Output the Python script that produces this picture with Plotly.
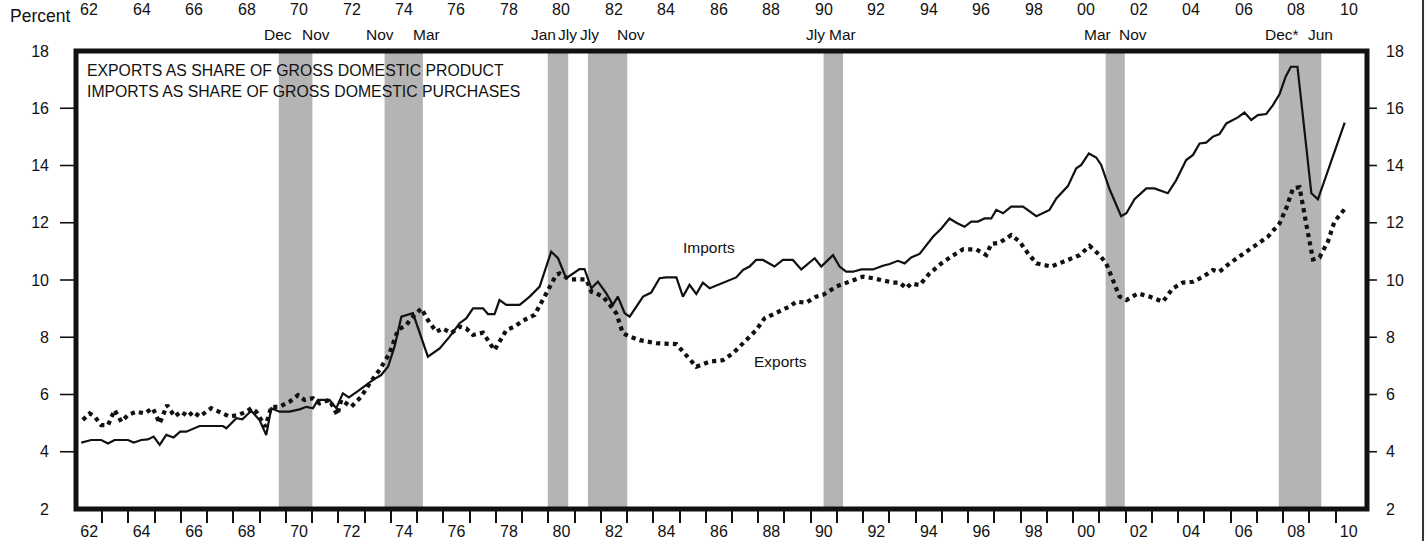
import plotly.graph_objects as go

# ---------------- data ----------------
imports_year = [1962.20, 1962.58, 1962.96, 1963.22, 1963.47, 1963.98, 1964.20, 1964.49, 1964.74, 1964.96,
                1965.19, 1965.44, 1965.72, 1965.97, 1966.20, 1966.71, 1967.60, 1967.73, 1968.11, 1968.34,
                1968.68, 1969.00, 1969.25, 1969.44, 1969.76, 1970.14, 1970.52, 1970.78, 1971.03, 1971.22,
                1971.66, 1971.92, 1972.17, 1972.40, 1972.81, 1973.32, 1973.63, 1973.89, 1974.14, 1974.40,
                1974.84, 1975.41, 1975.86, 1976.24, 1976.62, 1976.87, 1977.13, 1977.51, 1977.70, 1977.95,
                1978.14, 1978.40, 1978.91, 1979.29, 1979.67, 1980.11, 1980.37, 1980.68, 1981.19, 1981.38,
                1981.64, 1981.89, 1982.21, 1982.46, 1982.65, 1982.91, 1983.10, 1983.35, 1983.61, 1983.92,
                1984.24, 1984.49, 1984.88, 1985.13, 1985.38, 1985.64, 1985.89, 1986.15, 1987.16, 1987.42,
                1987.67, 1987.92, 1988.18, 1988.62, 1988.94, 1989.32, 1989.64, 1990.15, 1990.40, 1990.85,
                1991.10, 1991.35, 1991.61, 1991.93, 1992.37, 1992.75, 1993.01, 1993.32, 1993.58, 1993.83,
                1994.15, 1994.66, 1994.98, 1995.29, 1995.55, 1995.86, 1996.12, 1996.37, 1996.63, 1996.88,
                1997.07, 1997.33, 1997.64, 1998.09, 1998.60, 1999.10, 1999.36, 1999.80, 2000.12, 2000.31,
                2000.60, 2000.88, 2001.07, 2001.39, 2001.83, 2002.03, 2002.34, 2002.79, 2003.10, 2003.61,
                2003.93, 2004.31, 2004.57, 2004.82, 2005.07, 2005.33, 2005.58, 2005.84, 2006.28, 2006.53,
                2006.79, 2007.04, 2007.36, 2007.61, 2007.87, 2008.10, 2008.30, 2008.55, 2009.08, 2009.33,
                2010.35]
imports_pct = [4.32, 4.41, 4.41, 4.29, 4.41, 4.41, 4.32, 4.41, 4.43, 4.53,
               4.24, 4.59, 4.50, 4.70, 4.70, 4.90, 4.90, 4.82, 5.17, 5.13,
               5.43, 5.10, 4.58, 5.52, 5.40, 5.40, 5.48, 5.57, 5.52, 5.81,
               5.81, 5.52, 6.04, 5.90, 6.16, 6.51, 6.68, 6.97, 7.67, 8.72,
               8.84, 7.32, 7.61, 8.02, 8.49, 8.66, 9.01, 9.01, 8.81, 8.81,
               9.30, 9.13, 9.13, 9.42, 9.77, 10.99, 10.76, 10.06, 10.38, 10.38,
               9.71, 9.94, 9.53, 9.13, 9.42, 8.84, 8.72, 9.07, 9.42, 9.56,
               10.06, 10.09, 10.09, 9.42, 9.83, 9.51, 9.91, 9.71, 10.09, 10.35,
               10.47, 10.70, 10.70, 10.47, 10.70, 10.70, 10.37, 10.76, 10.47, 10.87,
               10.47, 10.29, 10.29, 10.37, 10.37, 10.50, 10.56, 10.67, 10.58, 10.79,
               10.91, 11.51, 11.80, 12.15, 12.00, 11.86, 12.04, 12.04, 12.15, 12.15,
               12.45, 12.33, 12.56, 12.56, 12.23, 12.45, 12.85, 13.28, 13.90, 14.02,
               14.42, 14.28, 14.02, 13.17, 12.23, 12.33, 12.82, 13.20, 13.20, 13.03,
               13.49, 14.19, 14.37, 14.77, 14.80, 15.01, 15.10, 15.47, 15.68, 15.85,
               15.59, 15.76, 15.80, 16.10, 16.50, 17.10, 17.45, 17.45, 13.03, 12.82,
               15.50]

exports_year = [1962.26, 1962.52, 1962.71, 1962.96, 1963.22, 1963.47, 1963.73, 1963.98, 1964.30, 1964.61,
                1964.93, 1965.19, 1965.47, 1965.76, 1966.01, 1966.27, 1966.46, 1966.71, 1967.15, 1967.47,
                1967.85, 1968.17, 1968.49, 1968.68, 1968.87, 1969.06, 1969.22, 1969.44, 1969.76, 1970.14,
                1970.46, 1970.71, 1971.03, 1971.28, 1971.66, 1971.96, 1972.11, 1972.49, 1972.87, 1973.19,
                1973.57, 1973.95, 1974.27, 1974.59, 1974.78, 1975.16, 1975.41, 1975.73, 1975.98, 1976.30,
                1976.62, 1976.87, 1977.13, 1977.51, 1977.95, 1978.40, 1978.71, 1979.03, 1979.48, 1979.92,
                1980.30, 1980.43, 1980.81, 1981.45, 1981.64, 1981.83, 1982.08, 1982.40, 1982.59, 1982.84,
                1983.10, 1983.48, 1984.11, 1984.88, 1985.26, 1985.64, 1986.15, 1986.65, 1987.04, 1987.54,
                1987.92, 1988.24, 1988.69, 1989.19, 1989.45, 1989.83, 1990.21, 1990.47, 1990.97, 1991.48,
                1991.99, 1992.37, 1992.63, 1993.13, 1993.39, 1993.64, 1993.83, 1994.15, 1994.53, 1994.98,
                1995.36, 1995.80, 1996.31, 1996.69, 1996.88, 1997.20, 1997.64, 1997.96, 1998.28, 1998.60,
                1999.17, 1999.74, 2000.25, 2000.63, 2001.01, 2001.26, 2001.52, 2001.77, 2002.03, 2002.47,
                2002.91, 2003.42, 2003.80, 2004.18, 2004.57, 2004.95, 2005.33, 2005.58, 2005.96, 2006.47,
                2006.98, 2007.42, 2007.87, 2008.12, 2008.38, 2008.63, 2008.88, 2009.14, 2009.39, 2009.71,
                2009.96, 2010.35]
exports_pct = [5.11, 5.34, 5.23, 4.93, 4.93, 5.46, 5.05, 5.28, 5.40, 5.34,
               5.52, 4.99, 5.63, 5.23, 5.40, 5.23, 5.40, 5.23, 5.52, 5.40,
               5.23, 5.28, 5.40, 5.52, 5.40, 5.11, 4.88, 5.57, 5.57, 5.75,
               5.98, 5.81, 5.87, 5.69, 5.81, 5.28, 5.81, 5.57, 5.92, 6.39,
               6.86, 7.44, 8.25, 8.43, 8.66, 9.01, 8.60, 8.19, 8.31, 8.14,
               8.37, 8.31, 8.08, 8.16, 7.55, 8.25, 8.37, 8.58, 8.78, 9.53,
               10.18, 10.23, 10.02, 10.02, 9.59, 9.53, 9.42, 9.07, 8.84, 8.14,
               8.02, 7.90, 7.79, 7.76, 7.38, 6.97, 7.15, 7.20, 7.44, 7.90,
               8.25, 8.66, 8.84, 9.07, 9.24, 9.21, 9.42, 9.48, 9.77, 9.94,
               10.12, 10.06, 10.00, 9.91, 9.91, 9.71, 9.88, 9.82, 10.23, 10.58,
               10.82, 11.07, 11.07, 10.87, 11.26, 11.30, 11.57, 11.34, 10.93, 10.58,
               10.47, 10.70, 10.87, 11.19, 10.87, 10.58, 9.94, 9.42, 9.30, 9.53,
               9.42, 9.24, 9.71, 9.91, 9.94, 10.11, 10.35, 10.29, 10.58, 10.91,
               11.22, 11.51, 11.98, 12.50, 13.20, 13.24, 11.98, 10.72, 10.79, 11.34,
               12.04, 12.48]

# recessions (start, end) in fractional years, and their month labels
recession_start = [1969.73, 1973.76, 1979.98, 1981.51, 1990.49, 2001.24, 2007.84]
recession_end = [1971.01, 1975.22, 1980.76, 1983.01, 1991.23, 2001.97, 2009.46]
recession_labels = ["Dec", "Nov", "Nov", "Mar", "Jan", "Jly", "Jly", "Nov",
                    "Jly", "Mar", "Mar", "Nov", "Dec*", "Jun"]
recession_label_year = [1969.70, 1971.16, 1973.57, 1975.35, 1979.82, 1980.73, 1981.56, 1983.14,
                        1990.19, 1991.22, 2000.93, 2002.27, 2007.95, 2009.43]

# axis labels
year_label_pos = [1962.5 + 2 * i for i in range(25)]
year_label_text = ["62", "64", "66", "68", "70", "72", "74", "76", "78", "80", "82", "84", "86",
                   "88", "90", "92", "94", "96", "98", "00", "02", "04", "06", "08", "10"]
year_tick_pos = list(range(1963, 2011))
y_label_vals = [2, 4, 6, 8, 10, 12, 14, 16, 18]
y_tick_vals = [4, 6, 8, 10, 12, 14, 16]      # labelled values that carry a tick mark

FONT = "Liberation Sans, Arial, Helvetica, sans-serif"
INK = "#111111"

xr = [1962, 2011.2]
yr_ = [2, 18]

fig = go.Figure()

fig.add_trace(go.Scatter(x=imports_year, y=imports_pct, mode="lines", name="Imports",
                         line=dict(color=INK, width=2.2), xaxis="x", yaxis="y",
                         showlegend=False, hoverinfo="skip"))
fig.add_trace(go.Scatter(x=exports_year, y=exports_pct, mode="lines", name="Exports",
                         line=dict(color=INK, width=4.2, dash="dot"), xaxis="x", yaxis="y2",
                         showlegend=False, hoverinfo="skip"))

shapes = []
for s, e in zip(recession_start, recession_end):
    shapes.append(dict(type="rect", xref="x", yref="paper", x0=s, x1=e, y0=0, y1=1,
                       fillcolor="#b4b4b4", line=dict(width=0), layer="below"))
# y tick marks outside the frame on both sides, one per tick value (mapped through the y range)
for v in y_tick_vals:
    yp = (v - yr_[0]) / (yr_[1] - yr_[0])
    shapes.append(dict(type="line", xref="paper", yref="paper", x0=-0.0124, x1=0, y0=yp, y1=yp,
                       line=dict(color=INK, width=1.6), layer="above"))
    shapes.append(dict(type="line", xref="paper", yref="paper", x0=1, x1=1.0077, y0=yp, y1=yp,
                       line=dict(color=INK, width=1.6), layer="above"))
# thick frame
shapes.append(dict(type="rect", xref="paper", yref="paper", x0=0, x1=1, y0=0, y1=1,
                   line=dict(color=INK, width=5), fillcolor="rgba(0,0,0,0)", layer="above"))
# scan edge line at the far right
shapes.append(dict(type="line", xref="paper", yref="paper", x0=1.0434, x1=1.0434, y0=-0.2, y1=1.2,
                   line=dict(color="#333333", width=2)))

tick_font = dict(family=FONT, size=16, color=INK)

annotations = []
for lab, yr in zip(recession_labels, recession_label_year):
    annotations.append(dict(text=lab, x=yr, xref="x", y=1.035, yref="paper", showarrow=False,
                            xanchor="center", yanchor="middle",
                            font=dict(family=FONT, size=15.5, color=INK)))
# year labels along the top edge
for lab, yr in zip(year_label_text, year_label_pos):
    annotations.append(dict(text=lab, x=yr, xref="x", y=1.0917, yref="paper", showarrow=False,
                            xanchor="center", yanchor="middle", font=tick_font))
annotations += [
    dict(text="Percent", x=-0.0526, xref="paper", y=1.0764, yref="paper", showarrow=False,
         xanchor="left", yanchor="middle", font=dict(family=FONT, size=17.5, color=INK)),
    dict(text="EXPORTS AS SHARE OF GROSS DOMESTIC PRODUCT", x=0.0070, xref="paper", y=0.9585,
         yref="paper", showarrow=False, xanchor="left", yanchor="middle",
         font=dict(family=FONT, size=15.8, color=INK)),
    dict(text="IMPORTS AS SHARE OF GROSS DOMESTIC PURCHASES", x=0.0070, xref="paper", y=0.9111,
         yref="paper", showarrow=False, xanchor="left", yanchor="middle",
         font=dict(family=FONT, size=15.8, color=INK)),
    dict(text="Imports", x=1986.11, xref="x", y=11.12, yref="y", showarrow=False,
         xanchor="center", yanchor="middle", font=dict(family=FONT, size=15.5, color=INK)),
    dict(text="Exports", x=1988.85, xref="x", y=7.15, yref="y", showarrow=False,
         xanchor="center", yanchor="middle", font=dict(family=FONT, size=15.5, color=INK)),
]

fig.update_layout(
    template="none",
    width=1426, height=541,
    margin=dict(l=76, r=59, t=51, b=32, pad=0),
    paper_bgcolor="white", plot_bgcolor="white",
    showlegend=False,
    shapes=shapes, annotations=annotations,
    xaxis=dict(range=xr, showgrid=False, zeroline=False, showline=False, automargin=False,
               tickmode="array", tickvals=year_label_pos, ticktext=year_label_text,
               ticks="", tickfont=tick_font, ticklabelstandoff=11,
               minor=dict(tickmode="array", tickvals=year_tick_pos, ticks="outside",
                          ticklen=13, tickwidth=1.6, tickcolor=INK, showgrid=False)),
    yaxis=dict(range=yr_, showgrid=False, zeroline=False, showline=False, automargin=False,
               tickmode="array", tickvals=y_label_vals, ticks="", tickfont=tick_font,
               ticklabelstandoff=26),
    yaxis2=dict(range=yr_, overlaying="y", side="right", anchor="x", showgrid=False, zeroline=False,
                showline=False, automargin=False, tickmode="array", tickvals=y_label_vals,
                ticks="", tickfont=tick_font, ticklabelstandoff=18),
)

# the page's default 8px body margin would shift the chart; remove it
fig.write_html("out.html", config={"displayModeBar": False},
               post_script="document.body.style.margin='0px';")
